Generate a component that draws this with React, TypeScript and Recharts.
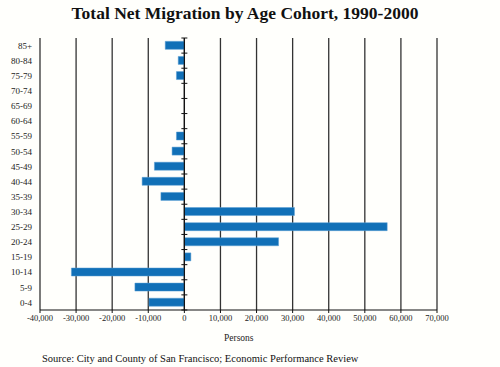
import { Bar, BarChart, CartesianGrid, ReferenceLine, XAxis, YAxis } from "recharts";

const cohorts = [
  "85+", "80-84", "75-79", "70-74", "65-69", "60-64", "55-59", "50-54", "45-49",
  "40-44", "35-39", "30-34", "25-29", "20-24", "15-19", "10-14", "5-9", "0-4",
];
const netMigration = [
  -5300, -1700, -2200, 0, 0, 0, -2200, -3400, -8300,
  -11700, -6500, 30500, 56200, 26100, 1800, -31300, -13700, -9800,
];
const xTicks = [-40000, -30000, -20000, -10000, 0, 10000, 20000, 30000, 40000, 50000, 60000, 70000];

const data = cohorts.map((cohort, i) => ({ cohort, value: netMigration[i] }));

const serif = "'Liberation Serif', 'DejaVu Serif', serif";

// zero line with little ticks at the category boundaries
function ZeroAxis(props: any) {
  const { x1, y1, x2, y2 } = props;
  const step = (y2 - y1) / cohorts.length;
  const marks = [];
  for (let i = 0; i <= cohorts.length; i++) {
    const y = y1 + i * step;
    marks.push(<line key={i} x1={x1 - 3} x2={x1 + 3} y1={y} y2={y} stroke="#111" strokeWidth={1} />);
  }
  return (
    <g>
      <line x1={x1} y1={y1} x2={x2} y2={y2} stroke="#111" strokeWidth={1.2} />
      {marks}
    </g>
  );
}

export default function App() {
  return (
    <div style={{ position: "absolute", left: 0, top: 0, width: 500, height: 367, background: "#fffffc", fontFamily: serif }}>
      <div style={{ position: "absolute", top: 3, width: 490, textAlign: "center", fontSize: 17.5, fontWeight: "bold", color: "#111" }}>
        Total Net Migration by Age Cohort, 1990-2000
      </div>
      <BarChart
        width={500}
        height={367}
        data={data}
        layout="vertical"
        margin={{ top: 38, right: 63, bottom: 0, left: 5 }}
        barCategoryGap="22%"
      >
        <CartesianGrid horizontal={false} stroke="#333" strokeWidth={1.3} />
        <XAxis
          type="number"
          domain={[-40000, 70000]}
          ticks={xTicks}
          interval={0}
          height={57}
          tickFormatter={(v: number) => v.toLocaleString("en-US")}
          tick={{ fontSize: 8.5, fill: "#222", fontFamily: serif }}
          axisLine={{ stroke: "#111", strokeWidth: 1.2 }}
          tickLine={{ stroke: "#111" }}
          tickSize={3}
        />
        <YAxis
          type="category"
          dataKey="cohort"
          width={35}
          interval={0}
          axisLine={false}
          tickLine={false}
          tick={{ fontSize: 9, fill: "#222", fontFamily: serif }}
        />
        <ReferenceLine x={0} shape={ZeroAxis} />
        <Bar dataKey="value" fill="#1170b7" stroke="#5a9fd4" strokeWidth={0.5} isAnimationActive={false} />
      </BarChart>
      <div style={{ position: "absolute", top: 333, left: 224, fontSize: 9.5, color: "#222" }}>Persons</div>
      <div style={{ position: "absolute", top: 353, left: 42, fontSize: 10.5, color: "#111" }}>
        Source: City and County of San Francisco; Economic Performance Review
      </div>
    </div>
  );
}
